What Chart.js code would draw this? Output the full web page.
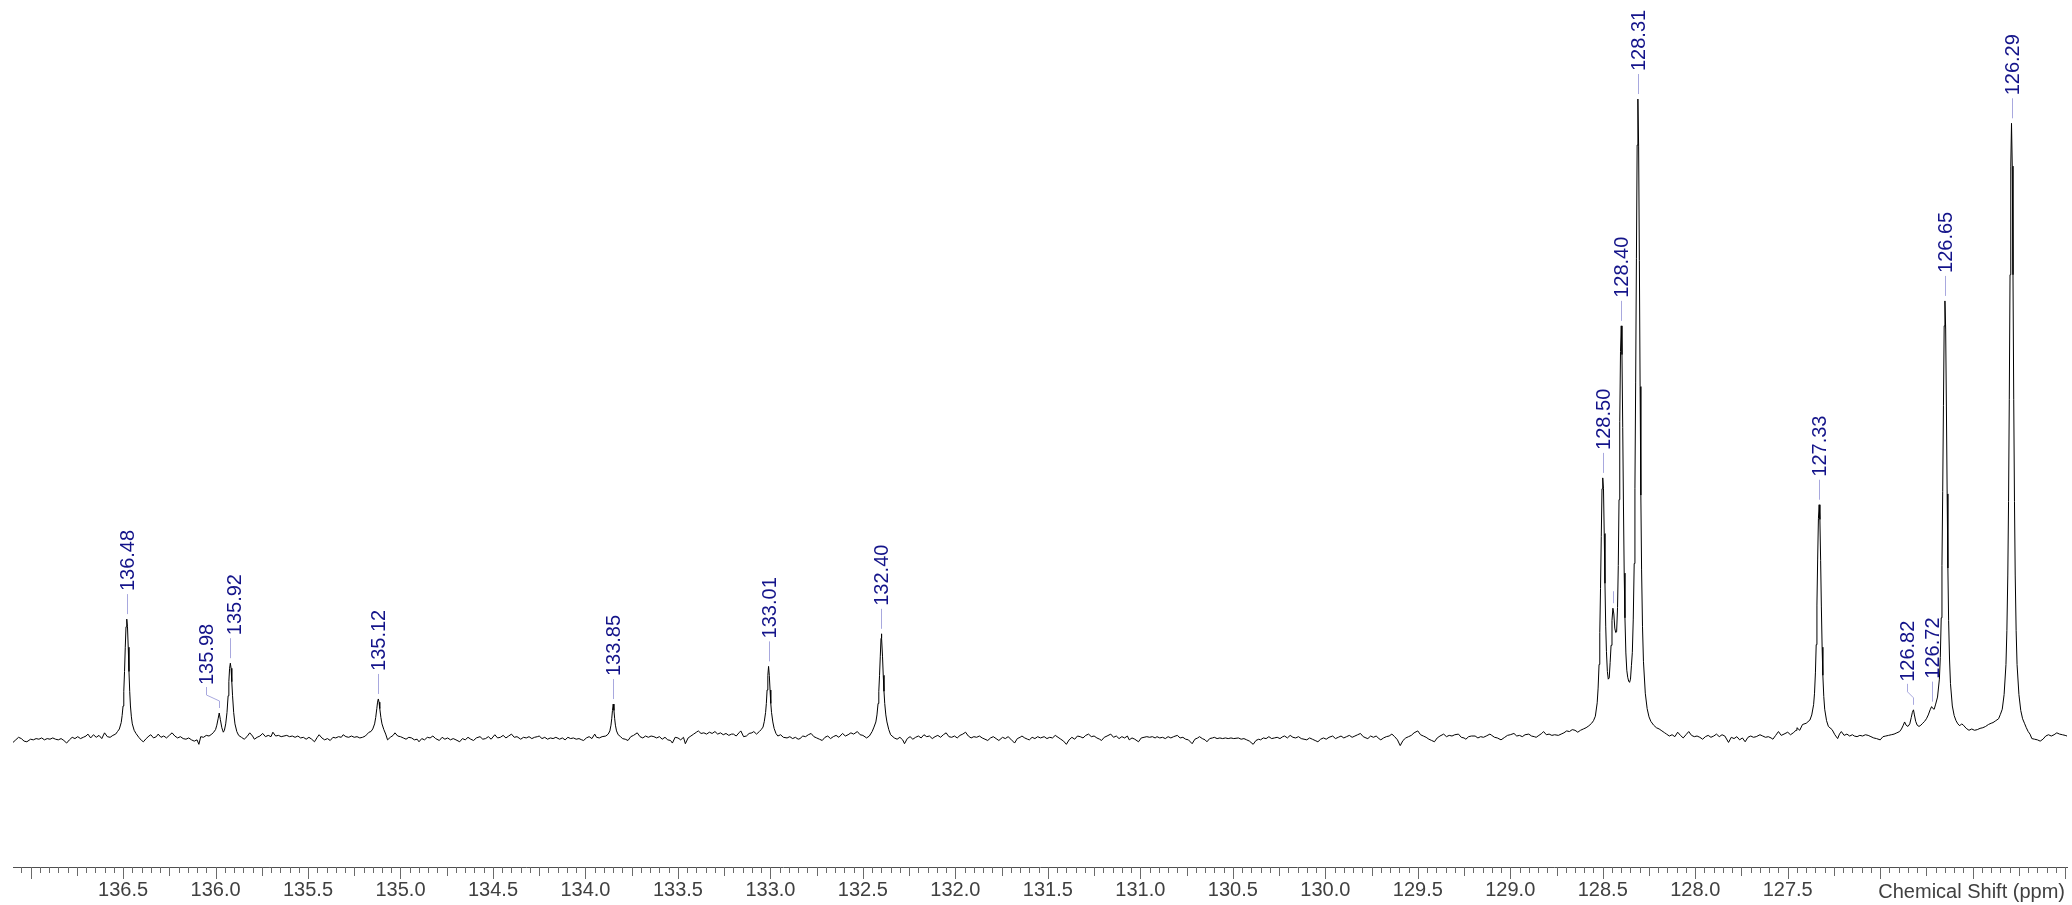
<!DOCTYPE html>
<html>
<head>
<meta charset="utf-8">
<title>13C NMR spectrum</title>
<script src="https://cdn.jsdelivr.net/npm/chart.js@4.4.0/dist/chart.umd.min.js"></script>
<style>
    html, body { margin: 0; padding: 0; background: #ffffff; }
    #wrap { width: 2072px; height: 905px; }
</style>
</head>
<body>
<div id="wrap"><canvas id="spectrum-chart" width="2072" height="905"></canvas></div>
<script>
// Picked peaks (ppm), their heights (% of tallest) and the printed label text
const peakShifts = [136.48, 135.98, 135.92, 135.12, 133.85, 133.01, 132.40, 128.50, 128.445, 128.40, 128.31, 127.33, 126.82, 126.72, 126.65, 126.29];
const peakHeights = [18.6, 3.9, 11.7, 6.1, 5.3, 11.2, 16.3, 40.7, 20.3, 64.5, 100, 36.5, 4.4, 4.9, 68.4, 96.2];
const peakLabels = ['136.48', '135.98', '135.92', '135.12', '133.85', '133.01', '132.40', '128.50', '', '128.40', '128.31', '127.33', '126.82', '126.72', '126.65', '126.29'];

// Axis labels that are printed (127.0 and below are covered by the axis title)
const tickLabels = ['136.5', '136.0', '135.5', '135.0', '134.5', '134.0', '133.5', '133.0', '132.5', '132.0', '131.5', '131.0', '130.5', '130.0', '129.5', '129.0', '128.5', '128.0', '127.5'];
const axisTitle = 'Chemical Shift (ppm)';

// Spectrum trace: [ppm, intensity %]
const spectrum = [
    [137.095,-0.7],[137.08,-0.3],[137.065,0.1],[137.05,-0.1],[137.035,-0.5],[137.02,-0.6],[137.0,-0.2],[136.985,-0.3],[136.97,-0.1],[136.955,-0.2],
    [136.94,0.0],[136.925,-0.3],[136.91,-0.1],[136.895,-0.2],[136.88,0.0],[136.865,-0.2],[136.85,-0.3],[136.835,-0.1],[136.82,-0.4],[136.805,-0.8],
    [136.79,-0.3],[136.775,0.1],[136.76,-0.1],[136.745,0.2],[136.73,-0.1],[136.715,0.1],[136.70,0.3],[136.69,0.6],[136.675,0.0],[136.66,0.5],
    [136.645,0.1],[136.63,0.4],[136.615,-0.1],[136.60,0.8],[136.585,0.2],[136.57,0.1],[136.555,0.4],[136.54,0.6],[136.53,1.0],
    [136.52,1.4],[136.51,2.4],[136.505,3.5],[136.50,5.0],[136.496,7.3],[136.492,10.4],[136.488,14.2],[136.484,17.4],[136.48,18.6],[136.476,17.4],
    [136.472,14.2],[136.468,10.4],[136.464,7.3],[136.46,5.0],[136.455,3.3],[136.45,2.2],[136.44,1.2],[136.43,0.7],
    [136.415,0.1],[136.40,-0.4],[136.39,-0.6],[136.375,-0.1],[136.36,0.3],[136.35,0.5],[136.335,0.0],[136.32,0.2],[136.31,0.6],[136.295,0.1],
    [136.28,0.3],[136.265,0.0],[136.25,0.4],[136.235,0.8],[136.22,0.3],[136.205,0.0],[136.19,0.2],[136.175,-0.1],[136.16,-0.2],[136.145,0.0],
    [136.13,-0.3],[136.115,-0.5],[136.10,-0.3],[136.09,-1.0],[136.08,0.2],[136.065,0.1],[136.05,0.4],[136.035,0.3],[136.02,0.6],[136.01,0.9],
    [136.0,1.3],[135.993,2.0],[135.986,3.0],[135.98,3.9],[135.974,2.9],[135.966,1.6],[135.958,0.9],[135.952,1.2],[135.945,2.2],[135.938,4.0],
    [135.932,6.6],[135.928,8.8],[135.924,10.9],[135.92,11.7],[135.916,10.9],[135.912,8.8],[135.908,6.6],[135.902,4.0],[135.895,2.2],[135.885,1.0],
    [135.875,0.4],
    [135.86,0.1],[135.845,-0.2],[135.83,0.2],[135.815,0.8],[135.80,0.3],[135.79,-0.2],[135.775,0.1],[135.76,0.3],[135.745,0.7],[135.73,0.2],
    [135.715,0.4],[135.70,0.2],[135.69,0.9],[135.675,0.3],[135.66,0.4],[135.645,0.2],[135.63,0.3],[135.615,0.4],[135.60,0.2],[135.585,0.3],
    [135.57,0.1],[135.555,0.3],[135.54,0.0],[135.525,0.1],[135.51,-0.2],[135.495,0.1],[135.48,-0.2],[135.465,-0.6],[135.45,0.1],[135.44,0.5],
    [135.425,0.0],[135.41,-0.3],[135.395,-0.1],[135.38,-0.4],[135.365,0.1],[135.35,0.0],[135.335,0.2],[135.32,0.1],[135.31,0.5],[135.295,0.2],
    [135.28,0.1],[135.265,0.3],[135.25,0.1],[135.235,0.2],[135.22,0.0],[135.205,0.1],[135.19,0.3],[135.18,0.6],[135.17,0.9],
    [135.16,1.0],[135.15,1.4],[135.14,2.2],[135.134,3.2],[135.128,4.6],[135.124,5.6],[135.12,6.1],[135.116,5.6],[135.112,4.6],[135.106,3.2],
    [135.10,2.2],[135.09,1.3],[135.08,0.6],[135.07,-0.3],
    [135.055,0.1],[135.04,0.4],[135.03,0.8],[135.015,0.3],[135.0,0.2],[134.985,0.0],[134.97,-0.2],[134.955,0.1],[134.94,0.0],[134.925,-0.3],
    [134.91,-0.2],[134.90,-0.6],[134.885,-0.1],[134.87,-0.3],[134.855,0.1],[134.84,0.0],[134.825,0.3],[134.81,-0.1],[134.79,-0.4],[134.775,0.1],
    [134.76,-0.2],[134.745,0.0],[134.73,-0.3],[134.715,-0.1],[134.70,-0.3],[134.68,-0.6],[134.665,-0.1],[134.65,-0.3],[134.635,0.1],[134.62,-0.2],
    [134.605,-0.4],[134.59,0.0],[134.57,0.2],[134.555,-0.2],[134.54,-0.1],[134.525,0.2],[134.51,-0.2],[134.49,0.5],[134.475,0.0],[134.46,0.1],
    [134.445,0.4],[134.43,0.0],[134.415,0.3],[134.40,0.6],[134.385,0.1],[134.37,0.2],[134.35,-0.2],[134.335,0.1],[134.32,0.0],[134.305,0.2],
    [134.29,-0.1],[134.275,0.1],[134.26,0.2],[134.25,0.3],[134.235,-0.1],[134.22,0.1],[134.205,-0.2],[134.19,0.0],[134.175,-0.1],[134.16,0.1],
    [134.14,-0.2],[134.125,0.0],[134.11,-0.3],[134.095,0.1],[134.08,-0.1],[134.065,0.0],[134.05,-0.2],[134.035,-0.1],[134.02,-0.3],[134.01,-0.4],
    [133.995,0.0],[133.98,0.2],[133.965,-0.1],[133.95,0.6],[133.94,0.1],[133.925,0.0],[133.91,0.2],[133.89,0.3],
    [133.877,0.6],[133.868,1.1],[133.862,2.0],[133.858,3.0],[133.854,4.3],[133.85,5.3],[133.846,4.3],[133.842,3.0],[133.838,2.0],[133.832,1.1],
    [133.823,0.5],
    [133.81,0.2],[133.80,-0.1],[133.785,-0.2],[133.77,-0.4],[133.755,0.2],[133.74,0.4],[133.72,0.8],[133.705,0.2],[133.69,0.0],[133.675,0.3],
    [133.66,0.1],[133.645,0.3],[133.63,0.2],[133.615,0.0],[133.60,0.2],[133.585,-0.2],[133.57,0.1],[133.555,-0.3],[133.54,-0.4],[133.53,-0.8],
    [133.515,0.1],[133.50,0.0],[133.485,-0.3],[133.47,0.1],[133.46,-0.9],[133.445,0.0],[133.43,0.3],[133.415,0.6],[133.40,0.9],[133.39,1.1],
    [133.375,0.7],[133.36,0.8],[133.345,0.6],[133.33,0.9],[133.315,0.7],[133.30,1.0],[133.285,0.6],[133.27,0.8],[133.255,0.5],[133.24,0.7],
    [133.225,0.4],[133.21,0.6],[133.20,0.6],[133.185,0.3],[133.17,0.8],[133.16,1.1],[133.145,0.2],[133.13,0.3],[133.115,0.7],[133.10,0.8],
    [133.09,1.0],[133.075,0.6],[133.06,1.0],[133.05,1.3],
    [133.04,1.7],[133.033,2.6],[133.026,4.0],[133.022,5.4],[133.018,7.5],[133.014,9.8],[133.01,11.2],[133.006,9.8],[133.002,7.5],[132.998,5.4],
    [132.994,4.0],[132.987,2.5],[132.98,1.5],[132.97,0.7],
    [132.96,0.3],[132.945,0.5],[132.93,0.1],[132.91,0.0],[132.895,0.2],[132.88,-0.1],[132.865,0.1],[132.85,-0.2],[132.84,-0.1],[132.825,0.3],
    [132.81,0.2],[132.795,0.5],[132.78,0.7],[132.765,0.2],[132.75,0.0],[132.735,-0.2],[132.72,-0.4],[132.705,0.1],[132.69,0.3],[132.675,-0.1],
    [132.66,0.2],[132.645,0.4],[132.63,0.1],[132.61,0.7],[132.595,0.3],[132.58,0.5],[132.565,0.8],[132.55,0.6],[132.53,1.0],[132.515,0.5],
    [132.50,0.4],[132.48,0.0],[132.465,0.3],[132.45,1.0],[132.44,1.7],
    [132.43,2.5],[132.424,3.6],[132.418,5.4],[132.414,7.3],[132.41,9.8],[132.406,12.8],[132.402,15.6],[132.40,16.3],[132.398,15.6],[132.394,12.8],
    [132.39,9.8],[132.386,7.3],[132.382,5.4],[132.376,3.6],[132.37,2.5],[132.36,1.3],[132.35,0.5],
    [132.33,0.0],[132.315,-0.2],[132.30,0.1],[132.285,-0.3],[132.275,-0.9],[132.26,-0.1],[132.245,0.2],[132.23,-0.2],[132.215,0.1],[132.20,0.3],
    [132.185,0.0],[132.17,0.5],[132.155,0.2],[132.14,0.3],[132.125,-0.1],[132.11,0.2],[132.095,0.4],[132.08,0.1],[132.065,0.5],[132.05,0.8],
    [132.035,0.2],[132.02,0.1],[132.005,0.3],[131.99,0.0],[131.975,0.4],[131.96,0.6],[131.945,0.9],[131.93,0.3],[131.915,0.0],[131.90,0.2],
    [131.885,0.1],[131.87,0.3],[131.855,0.0],[131.84,-0.2],[131.825,-0.4],[131.81,0.0],[131.795,0.2],[131.78,-0.1],[131.765,-0.4],
    [131.745,0.1],[131.73,-0.1],[131.715,0.2],[131.70,-0.2],[131.68,-0.8],[131.665,-0.1],[131.65,0.1],[131.64,0.3],[131.625,0.0],[131.61,-0.2],
    [131.60,-0.3],[131.585,0.1],[131.57,-0.1],[131.555,0.2],[131.54,0.0],[131.52,0.2],[131.505,-0.1],[131.49,0.1],[131.475,0.0],[131.46,0.4],
    [131.445,0.1],[131.43,-0.2],[131.415,-0.5],[131.40,-1.0],[131.385,-0.3],[131.37,0.1],[131.355,-0.2],[131.34,0.3],[131.325,0.2],[131.31,0.0],
    [131.295,0.4],[131.28,0.6],[131.265,0.2],[131.25,0.3],[131.235,0.0],[131.22,-0.2],[131.21,-0.4],[131.195,0.1],[131.18,0.3],[131.16,0.6],
    [131.145,0.1],[131.13,0.3],[131.115,-0.1],[131.10,0.2],[131.085,0.0],[131.07,0.3],[131.06,-0.3],[131.045,0.0],[131.03,-0.2],[131.01,-0.6],
    [130.995,0.0],[130.98,0.1],[130.965,0.2],[130.95,0.1],[130.935,0.2],[130.92,0.0],[130.91,0.2],[130.895,0.0],[130.88,0.1],[130.865,-0.1],
    [130.85,0.2],[130.835,0.0],[130.82,0.2],[130.80,0.4],[130.785,0.0],[130.77,0.1],[130.755,-0.2],[130.74,-0.3],[130.72,-0.9],[130.705,-0.2],
    [130.69,0.0],[130.68,0.2],[130.665,-0.1],[130.65,-0.3],[130.64,-0.6],[130.625,-0.1],[130.61,0.0],[130.60,0.1],[130.585,-0.1],[130.57,0.0],
    [130.555,-0.1],[130.54,0.0],[130.525,-0.1],[130.51,0.0],[130.495,-0.1],[130.47,0.0],[130.455,-0.2],[130.44,-0.1],[130.425,-0.3],[130.41,-0.5],
    [130.39,-1.0],[130.375,-0.4],[130.36,-0.2],[130.35,-0.3],[130.335,0.0],[130.32,-0.1],[130.305,0.2],[130.29,-0.1],[130.275,0.0],[130.26,0.1],
    [130.245,-0.1],[130.23,0.2],[130.22,0.3],[130.205,0.0],[130.19,0.4],[130.175,0.1],[130.16,0.0],[130.145,0.2],[130.13,-0.1],[130.115,-0.2],
    [130.10,-0.3],[130.085,0.0],[130.07,-0.2],[130.055,-0.4],[130.04,-0.6],[130.025,-0.2],[130.01,0.0],[129.995,-0.2],[129.98,0.1],[129.96,0.3],
    [129.945,-0.1],[129.93,0.1],[129.915,0.3],[129.90,0.0],[129.885,0.2],[129.87,0.4],[129.855,0.1],[129.84,0.3],[129.825,0.5],[129.81,0.7],
    [129.795,0.2],[129.78,0.0],[129.77,-0.1],[129.755,0.3],[129.74,0.1],[129.725,0.3],[129.71,-0.1],[129.70,-0.3],[129.685,0.0],[129.67,0.2],
    [129.655,0.3],[129.64,0.6],[129.625,0.2],[129.61,-0.3],[129.595,-1.2],[129.58,-0.4],[129.565,0.0],[129.55,0.2],[129.535,0.4],[129.52,0.8],
    [129.50,1.1],[129.485,0.5],[129.47,0.3],[129.455,0.1],[129.44,-0.2],[129.425,-0.4],[129.41,-0.6],[129.395,0.0],[129.38,0.3],[129.36,0.6],
    [129.345,0.2],[129.33,0.4],[129.315,0.3],[129.30,0.5],[129.28,0.6],[129.265,0.1],[129.25,0.0],[129.24,-0.2],[129.225,0.2],[129.21,0.3],
    [129.19,0.3],[129.175,0.0],[129.16,0.2],[129.145,0.1],[129.13,0.3],[129.11,0.6],[129.10,0.4],[129.085,0.1],[129.07,0.0],[129.05,-0.3],
    [129.03,0.1],[129.015,0.4],[129.0,0.5],[128.98,0.7],[128.965,0.3],[128.95,0.4],[128.935,0.2],[128.92,0.5],[128.90,0.6],[128.885,0.3],
    [128.87,0.2],[128.86,0.1],[128.845,0.4],[128.83,0.7],[128.82,1.0],[128.805,0.5],[128.79,0.6],[128.775,0.4],[128.76,0.5],[128.74,0.4],
    [128.725,0.6],[128.71,0.8],[128.695,1.1],[128.68,1.0],[128.665,1.3],[128.65,1.2],[128.635,0.9],[128.62,1.2],[128.605,1.4],[128.59,1.6],
    [128.575,1.9],[128.56,2.3],[128.55,2.7],[128.54,3.4],[128.53,5.5],[128.525,7.8],[128.52,11.5],[128.516,16.5],[128.512,23.4],[128.508,31.5],
    [128.504,39],[128.50,40.7],[128.496,39],[128.492,32],[128.488,24.2],[128.484,17.5],[128.48,13.5],[128.475,10.4],[128.47,9.2],[128.465,9.4],
    [128.46,11.8],[128.455,14.5],[128.45,18.4],[128.445,20.3],[128.44,19.4],[128.435,17.2],[128.43,16.5],[128.425,16.6],[128.42,20.4],[128.416,27],
    [128.412,37.3],[128.408,49.5],[128.404,60.5],[128.40,64.5],[128.396,60],[128.392,48.6],[128.388,36.3],[128.384,25.8],[128.38,18.8],[128.375,13.3],
    [128.37,10.6],[128.365,9.5],[128.36,8.9],[128.355,8.7],[128.35,9.2],[128.345,11.3],[128.34,13.4],[128.335,18.6],[128.33,27.3],[128.326,39],
    [128.322,55.7],[128.318,75],[128.314,92.8],[128.31,100],[128.306,92.5],[128.302,74.7],[128.298,55],[128.294,38],[128.29,26.3],[128.285,17.4],
    [128.28,12],[128.27,7.0],[128.26,4.6],[128.25,3.3],[128.24,2.6],[128.225,2.0],[128.21,1.6],[128.195,1.4],[128.18,1.1],[128.165,0.8],
    [128.155,0.6],
    [128.14,0.3],[128.125,0.5],[128.11,0.2],[128.095,0.9],[128.08,0.4],[128.065,0.0],[128.05,0.5],[128.035,1.0],[128.02,0.4],[128.005,0.2],
    [127.99,0.3],[127.975,0.1],[127.96,-0.2],[127.945,0.2],[127.93,0.4],[127.915,0.1],[127.90,0.3],[127.885,0.6],[127.87,0.2],[127.855,0.5],
    [127.84,0.3],[127.82,-0.7],[127.805,0.1],[127.79,-0.1],[127.775,0.2],[127.76,-0.3],[127.745,0.0],[127.73,-0.6],[127.715,0.1],[127.70,0.3],
    [127.685,0.1],[127.67,0.2],[127.65,0.5],[127.635,0.3],[127.62,0.1],[127.605,0.2],[127.59,0.0],[127.58,-0.2],[127.565,0.4],[127.55,1.0],
    [127.535,0.4],[127.52,0.6],[127.50,0.9],[127.485,0.5],[127.47,0.8],[127.455,1.2],[127.45,1.6],[127.435,1.2],[127.42,2.1],
    [127.40,2.3],[127.38,2.8],[127.37,3.6],[127.36,5.2],[127.355,7.0],[127.35,10.3],[127.346,14.6],[127.342,20.8],[127.338,28],[127.334,34.3],
    [127.33,36.5],[127.326,34.2],[127.322,27.8],[127.318,20.5],[127.314,14.2],[127.31,9.8],[127.305,6.5],[127.30,4.5],[127.29,2.7],[127.28,1.8],
    [127.26,1.3],[127.245,0.5],[127.23,-0.1],
    [127.22,0.6],[127.21,1.0],[127.195,0.4],[127.18,0.6],[127.165,0.3],[127.15,0.5],[127.14,0.3],[127.125,0.2],[127.11,0.4],[127.095,0.3],
    [127.08,0.5],[127.065,0.4],[127.05,0.2],[127.035,0.0],[127.02,-0.1],[127.0,-0.3],[126.985,0.2],[126.97,0.3],[126.955,0.4],[126.94,0.5],
    [126.925,0.6],
    [126.91,0.8],[126.895,1.0],[126.885,1.4],[126.875,2.0],[126.868,2.5],[126.86,2.0],[126.85,1.8],[126.84,2.2],[126.832,3.2],[126.826,4.0],
    [126.82,4.4],[126.815,3.6],[126.808,2.6],[126.80,2.0],[126.79,1.8],[126.78,2.0],[126.77,2.3],[126.76,2.6],[126.75,3.0],[126.74,3.6],
    [126.73,4.4],[126.722,4.9],[126.715,4.6],[126.708,4.5],[126.70,5.3],[126.69,6.4],[126.68,9.2],[126.675,12.6],[126.67,18.8],[126.666,27],
    [126.662,38.6],[126.658,52],[126.654,64.5],[126.65,68.4],[126.646,64],[126.642,51.8],[126.638,38.2],[126.634,26.6],[126.63,18.4],[126.625,12.2],
    [126.62,8.5],[126.61,5.0],[126.60,3.5],[126.59,2.7],[126.58,2.2],[126.57,1.9],[126.56,2.2],[126.55,2.0],[126.535,1.5],[126.52,1.2],
    [126.505,1.4],[126.49,1.2],[126.475,1.3],[126.46,1.5],[126.445,1.6],[126.43,1.8],[126.415,2.1],[126.40,2.3],
    [126.39,2.4],[126.375,2.7],[126.36,3.0],[126.35,3.7],[126.34,4.5],[126.33,6.8],[126.32,11.5],[126.315,16.8],[126.31,25.5],[126.306,37],
    [126.302,53],[126.298,72.5],[126.294,89.5],[126.29,96.2],[126.286,89.5],[126.282,72.5],[126.278,53],[126.274,37],[126.27,25.5],[126.265,16.8],
    [126.26,11.5],[126.25,6.8],[126.24,4.3],[126.23,3.0],[126.22,2.3],[126.21,1.6],[126.20,1.0],[126.19,0.6],[126.18,-0.1],
    [126.165,-0.2],[126.15,-0.3],[126.135,-0.5],[126.12,-0.2],[126.105,0.3],[126.09,0.5],[126.075,0.3],[126.06,0.5],[126.045,0.8],[126.03,0.6],
    [126.015,0.5],[126.0,0.4],[125.99,0.3]
];

// label offsets (px) where the picked label was pushed sideways
const labelNudges = {
    '135.98': { dx: -13, kink: true },
    '126.82': { dx: -6, kink: true },
    '135.92': { dx: 4 }
};

const FONT = '"Liberation Sans", Arial, sans-serif';

// Peak labels with leader lines
const peakLabelPlugin = {
    id: 'peakLabels',
    afterDatasetsDraw(chart) {
        const { ctx, scales: { x, y } } = chart;
        ctx.save();
        peakShifts.forEach((ppm, i) => {
            const px = Math.round(x.getPixelForValue(ppm)) + 0.5;
            const top = y.getPixelForValue(peakHeights[i]);
            const text = peakLabels[i];
            const nudge = labelNudges[text] || {};
            const dx = nudge.dx || 0;

            ctx.strokeStyle = '#a8a8de';
            ctx.lineWidth = 1;
            ctx.beginPath();
            if (!text) {
                ctx.moveTo(px, top - 5);
                ctx.lineTo(px, top - 17);
            } else if (nudge.kink) {
                ctx.moveTo(px, top - 5);
                ctx.lineTo(px, top - 12);
                ctx.lineTo(px + dx, top - 18);
                ctx.lineTo(px + dx, top - 26);
            } else {
                ctx.moveTo(px, top - 5);
                ctx.lineTo(px, top - 25);
            }
            ctx.stroke();

            if (text) {
                ctx.save();
                ctx.translate(px + dx + 1, top - 28);
                ctx.rotate(-Math.PI / 2);
                ctx.fillStyle = '#14148a';
                ctx.font = '20px ' + FONT;
                ctx.textAlign = 'left';
                ctx.textBaseline = 'middle';
                ctx.fillText(text, 0, 0);
                ctx.restore();
            }
        });
        ctx.restore();
    }
};

// Minor / major tick marks and the axis title at the right end
const axisDecorPlugin = {
    id: 'axisDecor',
    afterDraw(chart) {
        const { ctx, chartArea, scales: { x } } = chart;
        const yb = chartArea.bottom;
        ctx.save();
        ctx.strokeStyle = '#6a6a6a';
        ctx.lineWidth = 1;
        ctx.beginPath();
        for (let i = Math.ceil(x.min / 0.05); i * 0.05 <= x.max; i++) {
            const px = Math.round(x.getPixelForValue(i * 0.05)) + 0.5;
            const len = i % 10 === 0 ? 12 : (i % 5 === 0 ? 9 : 6);
            ctx.moveTo(px, yb);
            ctx.lineTo(px, yb + len);
        }
        ctx.stroke();

        ctx.fillStyle = '#404040';
        ctx.font = '20px ' + FONT;
        ctx.textAlign = 'right';
        ctx.textBaseline = 'alphabetic';
        ctx.fillText(axisTitle, chartArea.right - 2, 898);
        ctx.restore();
    }
};

const ctx = document.getElementById('spectrum-chart').getContext('2d');
new Chart(ctx, {
    type: 'line',
    data: {
        datasets: [{
            label: '13C',
            data: spectrum.map(([ppm, v]) => ({ x: ppm, y: v })),
            borderColor: '#000000',
            borderWidth: 1,
            pointRadius: 0,
            tension: 0,
            fill: false
        }]
    },
    options: {
        responsive: false,
        animation: false,
        devicePixelRatio: 1,
        layout: { padding: { left: 13, right: 5, top: 0, bottom: 0 } },
        plugins: {
            legend: { display: false },
            tooltip: { enabled: false }
        },
        scales: {
            x: {
                type: 'linear',
                reverse: true,
                min: 125.99,
                max: 137.095,
                grid: { display: false, drawTicks: true, tickLength: 12 },
                border: { display: true, color: '#505050', width: 1 },
                afterFit: (scale) => { scale.height = 38; },
                ticks: {
                    stepSize: 0.5,
                    autoSkip: false,
                    maxRotation: 0,
                    padding: -1,
                    color: '#404040',
                    font: { family: FONT, size: 20 },
                    callback: (value) => {
                        const s = Number(value).toFixed(1);
                        return tickLabels.includes(s) ? s : '';
                    }
                }
            },
            y: {
                display: false,
                min: -20.2,
                max: 115.5
            }
        }
    },
    plugins: [peakLabelPlugin, axisDecorPlugin]
});
</script>
</body>
</html>
